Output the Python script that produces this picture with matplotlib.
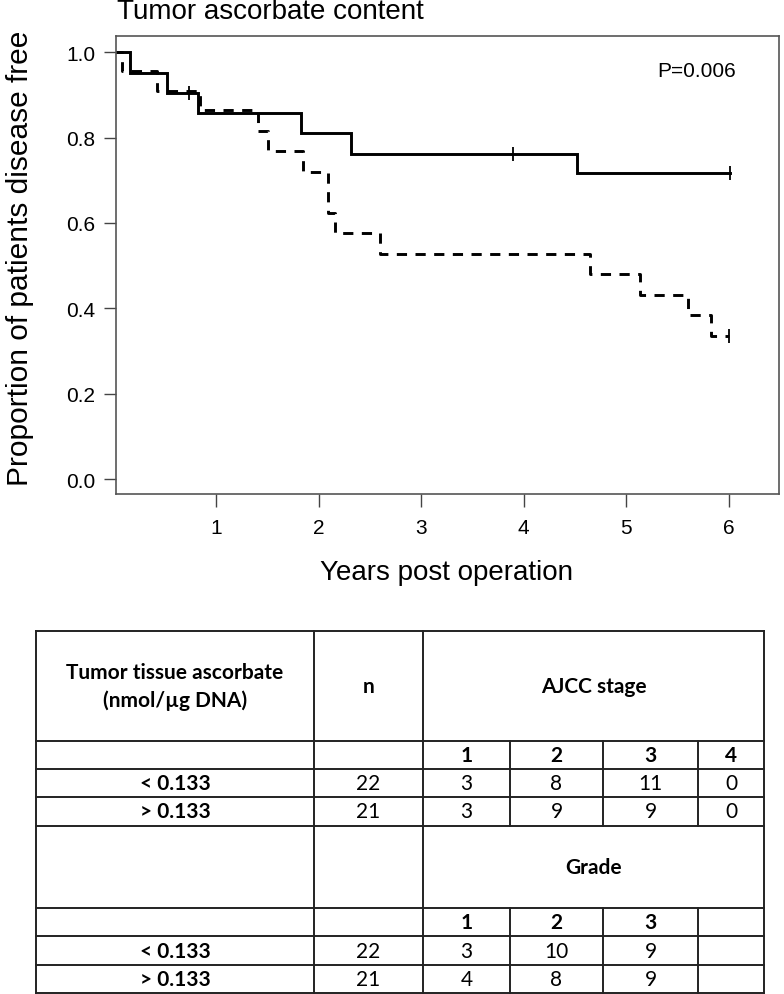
import numpy as np
import matplotlib
matplotlib.use('Agg')
import matplotlib.pyplot as plt

# Kaplan-Meier steps
t_high = [0.0, 0.16, 0.52, 0.82, 1.83, 2.32, 4.52, 6.01]
s_high = [1.0, 0.952, 0.905, 0.857, 0.810, 0.762, 0.717, 0.717]
cens_high_t = [0.74, 3.90, 6.01]
cens_high_s = [0.905, 0.762, 0.717]

t_low = [0.0, 0.08, 0.42, 0.84, 1.41, 1.51, 1.85, 2.09, 2.16, 2.60, 4.65, 5.13, 5.60, 5.83, 6.00]
s_low = [1.0, 0.955, 0.909, 0.864, 0.815, 0.768, 0.720, 0.624, 0.576, 0.528, 0.480, 0.432, 0.384, 0.336, 0.336]
cens_low_t = [6.00]
cens_low_s = [0.336]

p_text = 'P=0.006'

# table contents
col_head = ['Tumor tissue ascorbate\n(nmol/µg DNA)', 'n']
groups = ['< 0.133', '> 0.133']
n_vals = [22, 21]
stage_lbl = ['1', '2', '3', '4']
stage_vals = [[3, 8, 11, 0], [3, 9, 9, 0]]
grade_lbl = ['1', '2', '3', '']
grade_vals = [[3, 10, 9], [4, 8, 9]]

W, H = 784, 995
fig = plt.figure(figsize=(W / 100, H / 100), dpi=100)
plt.rcParams['font.family'] = ['Liberation Sans', 'DejaVu Sans']

# axes box in pixels: left 116, right 779, top 37, bottom 495
ax = fig.add_axes([116 / W, 1 - 495 / H, (779 - 116) / W, (495 - 37) / H])
ax.plot(t_high, s_high, drawstyle='steps-post', color='black', lw=2.1, solid_joinstyle='miter')
ax.plot(t_low, s_low, drawstyle='steps-post', color='black', lw=2.1, linestyle=(0, (3.5, 2.9)))
ax.plot(cens_high_t, cens_high_s, '|', color='black', ms=10, mew=1.3)
ax.plot(cens_low_t, cens_low_s, '|', color='black', ms=10, mew=1.3)

ax.set_xlim(0.025, 6.49)
ax.set_ylim(-0.035, 1.038)
ax.set_xticks([1, 2, 3, 4, 5, 6])
ax.set_yticks([0.0, 0.2, 0.4, 0.6, 0.8, 1.0])
ax.set_yticklabels(['0.0', '0.2', '0.4', '0.6', '0.8', '1.0'])
ax.tick_params(direction='out', length=9, width=1, color='#444444', labelsize=15, pad=6)
ax.tick_params(axis='x', pad=8)
for sp in ax.spines.values():
    sp.set_color('#555555')
    sp.set_linewidth(1.2)
ax.text(0.935, 0.925, p_text, transform=ax.transAxes, ha='right', va='center', fontsize=15)

fig.text(117 / W, 1 - 12 / H, 'Tumor ascorbate content', ha='left', va='center', fontsize=20)
fig.text(447 / W, 1 - 573 / H, 'Years post operation', ha='center', va='center', fontsize=20)
fig.text(20 / W, 1 - 258 / H, 'Proportion of patients disease free', ha='center', va='center',
         rotation=90, fontsize=21.5)

# table drawn in a pixel-coordinate axes
tb = fig.add_axes([0, 0, 1, 1])
tb.set_xlim(0, W)
tb.set_ylim(H, 0)
tb.axis('off')

xs = [36, 314, 423, 510, 603, 698, 764]
ys = [632, 742, 770, 798, 827, 909, 937, 966, 994]
lc = '#222222'
lw = 1.4
for y in ys:
    tb.plot([xs[0], xs[-1]], [y, y], color=lc, lw=lw)
for x in [xs[0], xs[1], xs[2], xs[-1]]:
    tb.plot([x, x], [ys[0], ys[-1]], color=lc, lw=lw)
for x in xs[3:6]:
    tb.plot([x, x], [ys[1], ys[4]], color=lc, lw=lw)
    tb.plot([x, x], [ys[5], ys[8]], color=lc, lw=lw)

tf = ['Lato', 'DejaVu Sans']
fs = 15
cx = [(xs[i] + xs[i + 1]) / 2 for i in range(len(xs) - 1)]
mid = lambda a, b: (a + b) / 2

tb.text(cx[0], mid(ys[0], ys[1]), col_head[0], ha='center', va='center', fontsize=fs,
        fontweight='bold', family=tf, linespacing=1.45)
tb.text(cx[1], mid(ys[0], ys[1]), col_head[1], ha='center', va='center', fontsize=fs,
        fontweight='bold', family=tf)
tb.text(mid(xs[2], xs[-1]), mid(ys[0], ys[1]), 'AJCC stage', ha='center', va='center',
        fontsize=fs, fontweight='bold', family=tf)
tb.text(mid(xs[2], xs[-1]), mid(ys[4], ys[5]), 'Grade', ha='center', va='center',
        fontsize=fs, fontweight='bold', family=tf)

for j, lbl in enumerate(stage_lbl):
    tb.text(cx[2 + j], mid(ys[1], ys[2]), lbl, ha='center', va='center', fontsize=fs,
            fontweight='bold', family=tf)
for j, lbl in enumerate(grade_lbl):
    tb.text(cx[2 + j], mid(ys[5], ys[6]), lbl, ha='center', va='center', fontsize=fs,
            fontweight='bold', family=tf)

for i, g in enumerate(groups):
    for base, vals in [(2, stage_vals[i]), (6, grade_vals[i])]:
        yc = mid(ys[base + i], ys[base + i + 1])
        tb.text(cx[0], yc, g, ha='center', va='center', fontsize=fs, fontweight='bold', family=tf)
        tb.text(cx[1], yc, str(n_vals[i]), ha='center', va='center', fontsize=fs, family=tf)
        for j, v in enumerate(vals):
            tb.text(cx[2 + j], yc, str(v), ha='center', va='center', fontsize=fs, family=tf)

fig.savefig('out.png', dpi=100)
